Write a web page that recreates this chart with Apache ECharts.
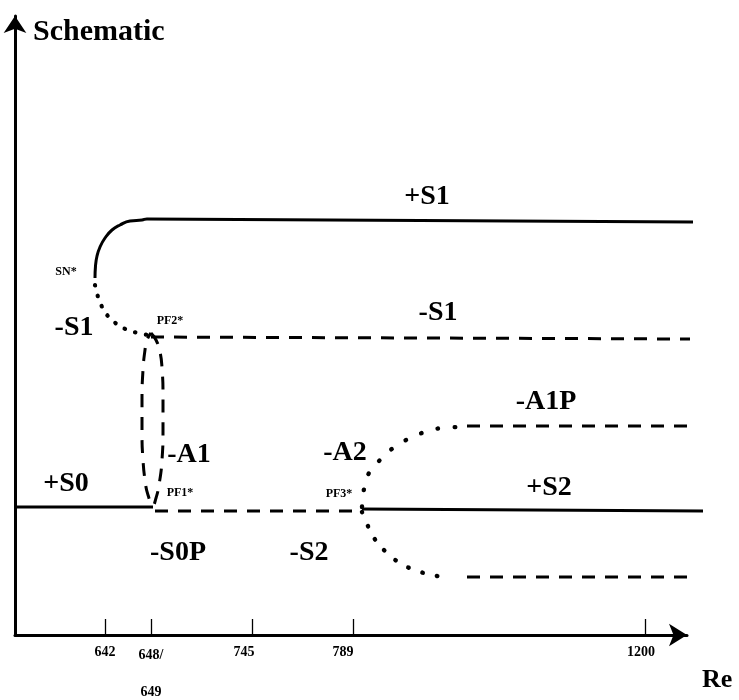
<!DOCTYPE html>
<html>
<head>
<meta charset="utf-8">
<script src="https://cdn.jsdelivr.net/npm/echarts@6/dist/echarts.min.js"></script>
<style>
  html, body { margin: 0; padding: 0; background: #fff; }
  #chart { width: 739px; height: 700px; }
</style>
</head>
<body>
<div id="chart"></div>
<script>
// Schematic bifurcation diagram: branches drawn in schematic units (x: position along Re, y: solution measure)

// Re tick marks along the schematic axis
const tickPos = [90, 136, 237, 338, 630];
const tickLabels = ['642', '648/\n649', '745', '789', '1200'];

// Branch +S1 (stable, born at the saddle-node SN*)
const plusS1 = [[80, 357], [80.5, 369], [82, 379], [85, 388], [90, 397], [97, 405], [105, 410], [115, 414], [127, 415], [132, 416], [678, 413]];
// Branch -S1 between SN* and PF2* (unstable part)
const minusS1Turn = [[80, 350], [81, 345], [85, 333], [90, 323], [97, 315], [105, 309], [113, 305], [123, 302], [133, 300]];
// Branch -S1 beyond PF2*
const minusS1 = [[136, 298], [675, 296]];
// Asymmetric branch -A1 joining PF1* and PF2*
const minusA1 = [[136, 302], [141, 295], [145, 283], [147, 267], [148, 240], [148, 205], [147, 175], [144, 150], [141, 137], [138, 130],
                 [133, 140], [130, 155], [128, 175], [127, 200], [127, 235], [128, 265], [130, 285], [132, 295], [136, 302]];
// Branch +S0 up to PF1*
const plusS0 = [[0, 128], [138, 128]];
// Branch -S0P / -S2 between PF1* and PF3*
const minusS0P = [[140, 124], [339, 124]];
// Branch +S2 beyond PF3*
const plusS2 = [[347, 126], [688, 124]];
// Branch -A2 / -A1P leaving PF3* upwards
const minusA2Upper = [[347, 128], [349, 146], [354, 162], [365, 175], [378, 187], [393, 196], [410, 203], [427, 207], [445, 208]];
const minusA1P = [[452, 209], [680, 209]];
// Branch -A2 leaving PF3* downwards
const minusA2Lower = [[347, 123], [352, 111], [359, 97], [371, 83], [385, 72], [400, 65], [417, 60], [435, 57]];
const minusA2LowerFar = [[452, 58], [678, 58]];

// Branch names and bifurcation point names
const branchNames = ['+S1', '-S1', '-S1', '-A1P', '-A1', '-A2', '+S0', '+S2', '-S0P', '-S2'];
const branchNameAt = [[412, 438], [59, 307], [423, 322], [531, 233], [174, 180], [330, 182], [51, 151], [534, 147], [163, 82], [294, 82]];
const pointNames = ['SN*', 'PF2*', 'PF1*', 'PF3*'];
const pointNameAt = [[51, 363], [155, 314], [165, 142], [324, 141]];

const FONT = "'Liberation Serif', 'Times New Roman', serif";
const solid = { type: 'solid', width: 3, color: '#000', cap: 'butt' };
const dashed = { type: [13, 10], width: 3, color: '#000', cap: 'butt' };
const dottedFine = { type: [0.5, 10.5], width: 4.2, color: '#000', cap: 'round' };
const dottedWide = { type: [0.5, 16.5], width: 4.4, color: '#000', cap: 'round' };
const dottedWideLow = { type: [0.5, 14.4], width: 4.4, color: '#000', cap: 'round' };

// grid 0 carries the drawn axes, grid 1 (same origin and scale, a little wider) carries the branches
function branch(data, lineStyle, smooth) {
  return {
    type: 'line', xAxisIndex: 1, yAxisIndex: 1, data: data, lineStyle: lineStyle, smooth: smooth || false,
    showSymbol: false, symbol: 'none', clip: false, silent: true, animation: false
  };
}

function textLayer(names, at, size) {
  return {
    type: 'scatter', xAxisIndex: 1, yAxisIndex: 1, symbolSize: 0, silent: true, animation: false, clip: false,
    itemStyle: { color: 'rgba(0,0,0,0)', opacity: 1 },
    data: names.map((n, i) => ({ name: n, value: at[i] })),
    label: {
      show: true, position: 'inside', formatter: '{b}', color: '#000',
      textBorderWidth: 0, textBorderColor: 'rgba(0,0,0,0)',
      fontFamily: FONT, fontWeight: 'bold', fontSize: size
    },
    emphasis: { disabled: true }
  };
}

// horizontal nudges (px) of the Re tick labels
const tickLabelShift = [0, 0, -8, -10, -4];
const rich = {};
tickLabelShift.forEach((s, i) => {
  rich['t' + i] = {
    fontFamily: FONT, fontWeight: 'bold', fontSize: 14, color: '#000',
    lineHeight: 16, padding: [0, -2 * s, 0, 0]
  };
});
rich.first = { fontFamily: FONT, fontWeight: 'bold', fontSize: 14, color: '#000', lineHeight: 22 };
rich.second = { fontFamily: FONT, fontWeight: 'bold', fontSize: 14, color: '#000', lineHeight: 52 };

const hiddenAxis = {
  type: 'value', min: 0, show: false,
  axisLine: { show: false }, axisTick: { show: false }, axisLabel: { show: false }, splitLine: { show: false }
};

const chart = echarts.init(document.getElementById('chart'), null, { renderer: 'canvas' });
chart.setOption({
  backgroundColor: '#fff',
  animation: false,
  grid: [
    { left: 15, right: 52, top: 16, bottom: 65, containLabel: false, outerBoundsMode: 'none' },
    { left: 15, right: 24, top: 16, bottom: 65, containLabel: false, outerBoundsMode: 'none' }
  ],
  xAxis: [{
    type: 'value', min: 0, max: 672, gridIndex: 0,
    name: '\nRe', nameLocation: 'end', nameGap: 15,
    nameTextStyle: {
      fontFamily: FONT, fontWeight: 'bold', fontSize: 26, color: '#000',
      align: 'left', verticalAlign: 'middle', lineHeight: 90
    },
    axisLine: { show: true, symbol: ['none', 'arrow'], symbolSize: [17, 18], lineStyle: { color: '#000', width: 3 } },
    axisTick: { show: true, inside: true, length: 16, customValues: tickPos, lineStyle: { color: '#000', width: 1.3 } },
    axisLabel: {
      show: true, customValues: tickPos, margin: 9,
      formatter: function (v) {
        const i = tickPos.indexOf(v);
        if (i < 0) return '';
        const parts = tickLabels[i].split('\n');
        if (parts.length > 1) return '{first|' + parts[0] + '}\n{second|' + parts[1] + '}';
        return '{t' + i + '|' + parts[0] + '}';
      },
      rich: rich
    },
    splitLine: { show: false }
  }, Object.assign({}, hiddenAxis, { gridIndex: 1, max: 700 })],
  yAxis: [{
    type: 'value', min: 0, max: 619, gridIndex: 0,
    name: 'Schematic', nameLocation: 'end', nameGap: -16,
    nameTextStyle: {
      fontFamily: FONT, fontWeight: 'bold', fontSize: 30, color: '#000',
      align: 'left', verticalAlign: 'middle', padding: [0, 0, 0, 18]
    },
    axisLine: { show: true, symbol: ['none', 'arrow'], symbolSize: [17, 17], lineStyle: { color: '#000', width: 3 } },
    axisTick: { show: false },
    axisLabel: { show: false },
    splitLine: { show: false }
  }, Object.assign({}, hiddenAxis, { gridIndex: 1, max: 619 })],
  series: [
    branch(plusS1, solid, 0.5),
    branch(minusS1Turn, dottedFine, 0.5),
    branch(minusS1, dashed),
    branch(minusA1, dashed, 0.5),
    branch(plusS0, solid),
    branch(minusS0P, dashed),
    branch(plusS2, solid),
    branch(minusA2Upper, dottedWide, 0.5),
    branch(minusA1P, dashed),
    branch(minusA2Lower, dottedWideLow, 0.5),
    branch(minusA2LowerFar, dashed),
    textLayer(branchNames, branchNameAt, 28),
    textLayer(pointNames, pointNameAt, 12)
  ]
});
</script>
</body>
</html>
